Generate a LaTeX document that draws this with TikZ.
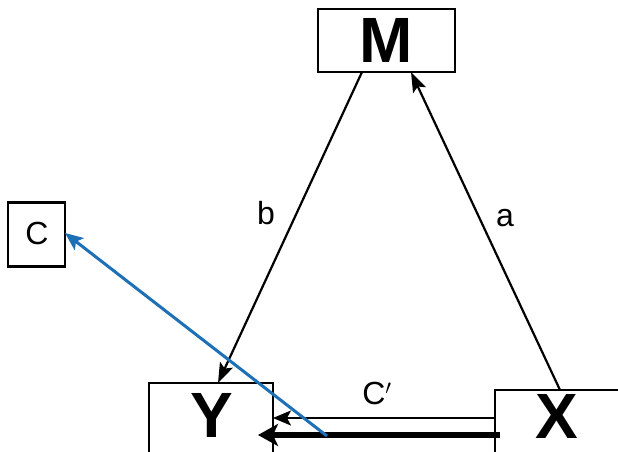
\documentclass[tikz,border=0pt]{standalone}
\usepackage{fontspec}
\setmainfont{Liberation Sans}
\usetikzlibrary{arrows.meta}
\definecolor{blueline}{RGB}{30,112,182}
\begin{document}
\begin{tikzpicture}[x=1pt,y=-1pt,
  box/.style={draw=black,line width=2.4pt,inner sep=0pt,fill=white},
  big/.style={font=\bfseries\fontsize{64}{64}\selectfont,inner sep=0pt},
  lab/.style={font=\fontsize{32}{32}\selectfont,inner sep=0pt},
  arr/.style={line width=2.2pt,-{Stealth[length=20pt,width=14pt,inset=4pt]}}]
\useasboundingbox (0,0) rectangle (618,451);
\fill[white] (0,0) rectangle (618,451);
% boxes
\node[box,minimum width=137pt,minimum height=63pt] (M) at (386.5,40.5) {};
\node[big] (Mt) at (386.5,40) {M};
\node[box,minimum width=57pt,minimum height=64pt] (C) at (36.5,234.5) {};
\node[lab] (Ct) at (37,233) {C};
\node[box,minimum width=124pt,minimum height=80pt] (Y) at (211,423) {};
\node[big] (Yt2) at (212,415) {Y};
\node[box,minimum width=130pt,minimum height=75pt] (X) at (560,427.5) {};
\node[big] (Xt2) at (557,416) {X};
% coordinates
\coordinate (Mb1) at (362,72);
\coordinate (Yt) at (218,383);
\coordinate (Xt) at (560,390);
\coordinate (Mb2) at (411,72);
\coordinate (Xl1) at (495,418);
\coordinate (Yr1) at (273,418);
\coordinate (Xl2) at (500,435);
\coordinate (Yr2) at (258,435);
\coordinate (Bs) at (327,436);
\coordinate (Cr) at (65,233);
% connectors
\draw[arr] (Mb1) -- (Yt);
\draw[arr] (Xt) -- (Mb2);
\node[lab] (bl) at (266,213) {b};
\node[lab] (al) at (505,218) {a};
\draw[line width=2pt,-{Stealth[length=18pt,width=15pt,inset=4pt]}] (Xl1) -- (Yr1);
\draw[line width=6pt,-{Stealth[length=20pt,width=22pt,inset=5pt]}] (Xl2) -- (Yr2);
\draw[blueline,line width=3pt,-{Stealth[length=18pt,width=15pt,inset=4pt]}] (Bs) -- (Cr);
\node[lab] (cp) at (377,393) {C$'$};
\end{tikzpicture}
\end{document}
